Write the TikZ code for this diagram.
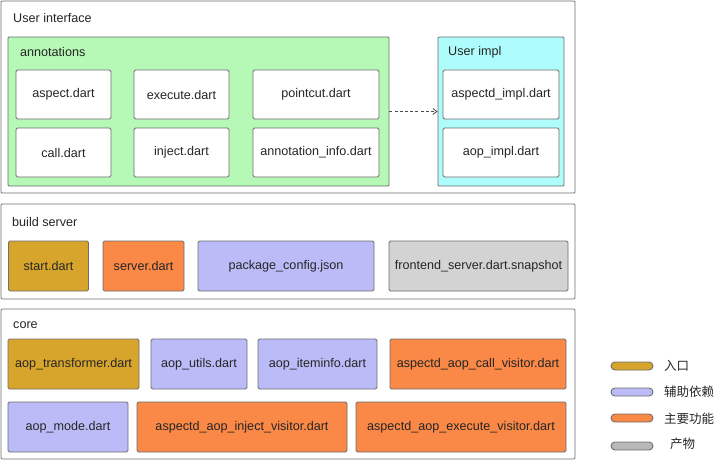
\documentclass[tikz,border=0pt]{standalone}
\usepackage{fontspec}
\setmainfont{Liberation Sans}
\newfontfamily\cjk{Noto Sans CJK SC}
\usetikzlibrary{arrows.meta}
\definecolor{cgold}{HTML}{D8A52C}
\definecolor{corange}{HTML}{FA8846}
\definecolor{clav}{HTML}{BBBBF8}
\definecolor{cgray}{HTML}{D3D3D3}
\definecolor{cgreen}{HTML}{B6F8B6}
\definecolor{ccyan}{HTML}{AEFCFC}
\definecolor{cedge}{HTML}{6E6E6E}
\tikzset{
  filebox/.style={draw=cedge, line width=0.9pt, rounded corners=1.5pt, inner sep=0pt,
    font=\fontsize{12.6}{14}\selectfont, text=black!85},
  groupbox/.style={draw=cedge, line width=0.9pt, rounded corners=1pt, inner sep=0pt},
  grouplabel/.style={anchor=west, inner sep=0pt, font=\fontsize{12.6}{14}\selectfont, text=black!85},
  pill/.style={draw=cedge, line width=0.9pt, rounded corners=4pt, minimum width=42pt, minimum height=8pt, inner sep=0pt},
  legendlabel/.style={anchor=west, inner sep=0pt, font=\cjk\fontsize{12.5}{14}\selectfont, text=black!85},
  dep/.style={draw=black!70, line width=0.8pt, dash pattern=on 3pt off 2.2pt, -{Straight Barb[length=4pt,width=6pt]}}
}
\begin{document}
\begin{tikzpicture}[x=1pt,y=-1pt]
\useasboundingbox (0,0) rectangle (720,460);
% User interface
\node[groupbox, fill=white, minimum width=574pt, minimum height=192pt] (ui) at (288,97) {};
\node[grouplabel] (uilbl) at (13,18) {User interface};
\node[groupbox, fill=cgreen, minimum width=381pt, minimum height=149pt] (ann) at (198.5,111.5) {};
\node[grouplabel] (annlbl) at (20,52) {annotations};
\node[filebox, fill=white, minimum width=95pt, minimum height=49pt] (aspect) at (63.5,94.5) {aspect.dart};
\node[filebox, fill=white, minimum width=95pt, minimum height=49pt] (execute) at (181.5,94.5) {execute.dart};
\node[filebox, fill=white, minimum width=126pt, minimum height=49pt] (pointcut) at (316,94.5) {pointcut.dart};
\node[filebox, fill=white, minimum width=95pt, minimum height=49pt] (call) at (63.5,152.5) {call.dart};
\node[filebox, fill=white, minimum width=95pt, minimum height=49pt] (inject) at (181.5,152.5) {inject.dart};
\node[filebox, fill=white, minimum width=126pt, minimum height=49pt] (anninfo) at (316,152.5) {annotation\_info.dart};
\node[groupbox, fill=ccyan, minimum width=126pt, minimum height=149pt] (impl) at (501,111.5) {};
\node[grouplabel] (impllbl) at (448,52) {User impl};
\node[filebox, fill=white, minimum width=116pt, minimum height=49pt] (aspimpl) at (501,94.5) {aspectd\_impl.dart};
\node[filebox, fill=white, minimum width=116pt, minimum height=49pt] (aopimpl) at (501,152.5) {aop\_impl.dart};
\draw[dep] (ann.east) -- (impl.west);
% build server
\node[groupbox, fill=white, minimum width=574pt, minimum height=95pt] (bs) at (288,251.5) {};
\node[grouplabel] (bslbl) at (12,222) {build server};
\node[filebox, fill=cgold, minimum width=80pt, minimum height=50pt] (start) at (48.5,266) {start.dart};
\node[filebox, fill=corange, minimum width=81pt, minimum height=50pt] (server) at (143.5,266) {server.dart};
\node[filebox, fill=clav, minimum width=176pt, minimum height=50pt] (pkg) at (286,266) {package\_config.json};
\node[filebox, fill=cgray, minimum width=179pt, minimum height=50pt] (fe) at (478.5,266) {frontend\_server.dart.snapshot};
% core
\node[groupbox, fill=white, minimum width=574pt, minimum height=150pt] (core) at (288,384) {};
\node[grouplabel] (corelbl) at (13,325) {core};
\node[filebox, fill=cgold, minimum width=131pt, minimum height=50pt] (trans) at (73.5,364) {aop\_transformer.dart};
\node[filebox, fill=clav, minimum width=96pt, minimum height=50pt] (utils) at (199,364) {aop\_utils.dart};
\node[filebox, fill=clav, minimum width=119pt, minimum height=50pt] (item) at (317.5,364) {aop\_iteminfo.dart};
\node[filebox, fill=corange, minimum width=176pt, minimum height=50pt] (callv) at (478,364) {aspectd\_aop\_call\_visitor.dart};
\node[filebox, fill=clav, minimum width=120pt, minimum height=50pt] (mode) at (68,427) {aop\_mode.dart};
\node[filebox, fill=corange, minimum width=210pt, minimum height=50pt] (injv) at (242,427) {aspectd\_aop\_inject\_visitor.dart};
\node[filebox, fill=corange, minimum width=210pt, minimum height=50pt] (execv) at (461,427) {aspectd\_aop\_execute\_visitor.dart};
% legend
\node[pill, fill=cgold] (lg1) at (632,366) {};
\node[legendlabel] (lt1) at (664,366) {入口};
\node[pill, fill=clav] (lg2) at (632,392) {};
\node[legendlabel] (lt2) at (664,392) {辅助依赖};
\node[pill, fill=corange] (lg3) at (632,418) {};
\node[legendlabel] (lt3) at (664,419) {主要功能};
\node[pill, fill=black!28] (lg4) at (632,446) {};
\node[legendlabel] (lt4) at (670,444) {产物};
\end{tikzpicture}
\end{document}
